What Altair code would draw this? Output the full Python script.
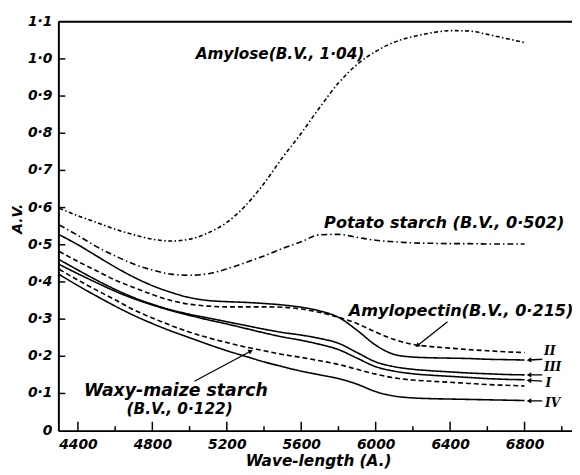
import math
import altair as alt
import pandas as pd

# ---------------- data ----------------
wavelength = [4300, 4400, 4500, 4600, 4700, 4800, 4900, 5000, 5100, 5200, 5300, 5400, 5500,
              5600, 5700, 5800, 5900, 6000, 6100, 6200, 6300, 6400, 6500, 6600, 6700, 6800]

amylose = [0.598, 0.578, 0.56, 0.542, 0.527, 0.515, 0.51, 0.515, 0.532, 0.56, 0.605, 0.665, 0.735,
           0.80, 0.87, 0.935, 0.985, 1.02, 1.045, 1.06, 1.07, 1.076, 1.075, 1.066, 1.055, 1.044]
potato = [0.553, 0.525, 0.495, 0.47, 0.448, 0.432, 0.421, 0.418, 0.422, 0.435, 0.452, 0.47, 0.49,
          0.508, 0.527, 0.528, 0.52, 0.512, 0.508, 0.505, 0.504, 0.503, 0.503, 0.502, 0.502, 0.502]
amylopectin = [0.482, 0.455, 0.43, 0.405, 0.385, 0.366, 0.35, 0.34, 0.335, 0.333, 0.333, 0.333, 0.332,
               0.327, 0.318, 0.305, 0.288, 0.265, 0.245, 0.232, 0.226, 0.222, 0.218, 0.215, 0.212, 0.21]
curve_II = [0.527, 0.50, 0.47, 0.44, 0.413, 0.39, 0.372, 0.358, 0.35, 0.347, 0.345, 0.342, 0.338,
            0.332, 0.322, 0.305, 0.27, 0.23, 0.205, 0.198, 0.196, 0.195, 0.194, 0.192, 0.191, 0.19]
curve_III = [0.46, 0.432, 0.405, 0.38, 0.358, 0.34, 0.325, 0.313, 0.303, 0.293, 0.283, 0.273, 0.264,
             0.257, 0.248, 0.235, 0.21, 0.185, 0.172, 0.165, 0.161, 0.158, 0.155, 0.153, 0.151, 0.15]
curve_I = [0.447, 0.422, 0.398, 0.375, 0.355, 0.338, 0.323, 0.31, 0.298, 0.287, 0.275, 0.263, 0.252,
           0.243, 0.232, 0.218, 0.195, 0.172, 0.16, 0.153, 0.149, 0.146, 0.143, 0.14, 0.138, 0.137]
waxy = [0.434, 0.405, 0.378, 0.352, 0.325, 0.303, 0.283, 0.265, 0.25, 0.237, 0.225, 0.215, 0.205,
        0.197, 0.188, 0.178, 0.165, 0.152, 0.142, 0.136, 0.133, 0.13, 0.127, 0.124, 0.122, 0.12]
curve_IV = [0.42, 0.39, 0.362, 0.335, 0.31, 0.288, 0.268, 0.25, 0.232, 0.215, 0.2, 0.185, 0.172,
            0.16, 0.15, 0.14, 0.125, 0.105, 0.093, 0.088, 0.086, 0.085, 0.084, 0.083, 0.082, 0.081]

series_names = ["Amylose", "Potato starch", "Amylopectin", "II", "III", "I", "Waxy-maize starch", "IV"]
series_values = [amylose, potato, amylopectin, curve_II, curve_III, curve_I, waxy, curve_IV]

x_label_values = [4400, 4800, 5200, 5600, 6000, 6400, 6800]
x_minor_ticks = [4600, 5000, 5400, 5800, 6200, 6600, 7000]
y_label_values = [0.0, 0.1, 0.2, 0.3, 0.4, 0.5, 0.6, 0.7, 0.8, 0.9, 1.0, 1.1]
y_label_texts = ["0", "0·1", "0·2", "0·3", "0·4", "0·5", "0·6", "0·7", "0·8", "0·9", "1·0", "1·1"]
y_tick_values = [0.1, 0.2, 0.3, 0.4, 0.5, 0.6, 0.7, 0.8, 0.9, 1.0]

label_small_texts = ["Amylose(B.V., 1·04)", "(B.V., 0·122)"]
label_small_x = [5033, 4661]
label_small_y = [1.014, 0.0585]
label_mid_texts = ["Potato starch (B.V., 0·502)", "Amylopectin(B.V., 0·215)"]
label_mid_x = [5723, 5855]
label_mid_y = [0.559, 0.322]
label_big_texts = ["Waxy-maize starch"]
label_big_x = [4433]
label_big_y = [0.107]

numeral_texts = ["II", "III", "I", "IV"]
numeral_x = [6905, 6905, 6912, 6910]
numeral_y = [0.213, 0.170, 0.127, 0.074]

arrow_x_tail = [5026, 6386, 6895, 6895, 6895, 6895]
arrow_y_tail = [0.133, 0.293, 0.192, 0.150, 0.133, 0.080]
arrow_x_head = [5325, 6227, 6828, 6828, 6828, 6828]
arrow_y_head = [0.213, 0.230, 0.190, 0.150, 0.135, 0.080]

# ---------------- geometry ----------------
X_MIN, X_MAX = 4295, 7055
Y_MIN, Y_MAX = 0.0, 1.1
W, H = 520, 414
KX = W / (X_MAX - X_MIN)   # px per Angstrom
KY = H / (Y_MAX - Y_MIN)   # px per A.V. unit

rows = []
for name, vals in zip(series_names, series_values):
    for w, v in zip(wavelength, vals):
        rows.append({"series": name, "wl": w, "av": v})
df = pd.DataFrame(rows)

dash_map = {
    "Amylose": [4, 2.5, 1.5, 2.5],
    "Potato starch": [6, 3, 1.5, 3],
    "Amylopectin": [5, 3],
    "II": [1, 0],
    "III": [1, 0],
    "I": [1, 0],
    "Waxy-maize starch": [5, 3],
    "IV": [1, 0],
}

FONT = "DejaVu Sans"

xscale = alt.Scale(domain=[X_MIN, X_MAX], nice=False, zero=False)
yscale = alt.Scale(domain=[Y_MIN, Y_MAX], nice=False, zero=False)

x_axis = alt.Axis(
    values=x_label_values, labelExpr="format(datum.value, 'd')",
    title="Wave-length (A.)", titleFontSize=15.5, titleFontWeight="bold",
    titleY=38, titleBaseline="bottom", titleX=W / 2 + 3,
    labelPadding=7, labelOverlap=False, labelFontSize=14,
)
y_axis = alt.Axis(
    values=y_label_values, labels=False,
    title="A.V.", titleFontSize=14, titleFontWeight="bold", titleAngle=270,
    titleX=-41, titleY=199, titleAlign="center", titleBaseline="middle",
)

lines = alt.Chart(df).mark_line(color="black", strokeWidth=1.6, interpolate="monotone").encode(
    x=alt.X("wl:Q", scale=xscale, axis=x_axis),
    y=alt.Y("av:Q", scale=yscale, axis=y_axis),
    detail="series:N",
    strokeDash=alt.StrokeDash("series:N", scale=alt.Scale(domain=list(dash_map.keys()),
                                                         range=list(dash_map.values())), legend=None),
)

frame_top = alt.Chart(pd.DataFrame({"v": [Y_MAX]})).mark_rule(color="black", strokeWidth=2).encode(
    y=alt.Y("v:Q", scale=yscale),
    x=alt.datum(X_MIN), x2=alt.datum(X_MAX),
)

major = alt.Chart(pd.DataFrame({"v": x_label_values})).mark_rule(color="black", strokeWidth=1.5).encode(
    x=alt.X("v:Q", scale=xscale), y=alt.datum(0.0), y2=alt.datum(9 / KY)
)
minor = alt.Chart(pd.DataFrame({"v": x_minor_ticks})).mark_rule(color="black", strokeWidth=1.5).encode(
    x=alt.X("v:Q", scale=xscale), y=alt.datum(0.0), y2=alt.datum(4.5 / KY)
)
yticks = alt.Chart(pd.DataFrame({"v": y_tick_values})).mark_rule(color="black", strokeWidth=1.5).encode(
    y=alt.Y("v:Q", scale=yscale), x=alt.datum(X_MIN), x2=alt.datum(X_MIN + 7 / KX)
)

ylabels = alt.Chart(pd.DataFrame({"v": y_label_values, "t": y_label_texts})).mark_text(
    align="right", baseline="middle", dx=-6, font=FONT, fontSize=14, fontStyle="italic",
    fontWeight="bold", color="black"
).encode(y=alt.Y("v:Q", scale=yscale), x=alt.datum(X_MIN), text="t:N")


def text_layer(texts, xs, ys, size):
    return alt.Chart(pd.DataFrame({"t": texts, "x": xs, "y": ys})).mark_text(
        align="left", baseline="middle", font=FONT, fontSize=size, fontStyle="italic",
        fontWeight="bold", color="black"
    ).encode(x=alt.X("x:Q", scale=xscale), y=alt.Y("y:Q", scale=yscale), text="t:N")


labels_small = text_layer(label_small_texts, label_small_x, label_small_y, 15.5)
labels_mid = text_layer(label_mid_texts, label_mid_x, label_mid_y, 16.3)
labels_big = text_layer(label_big_texts, label_big_x, label_big_y, 17.5)

numerals = alt.Chart(pd.DataFrame({"t": numeral_texts, "x": numeral_x, "y": numeral_y})).mark_text(
    align="left", baseline="middle", font="DejaVu Serif", fontSize=12.5, fontStyle="italic",
    fontWeight="bold", color="black"
).encode(x=alt.X("x:Q", scale=xscale), y=alt.Y("y:Q", scale=yscale), text="t:N")

angles = [math.degrees(math.atan2((xh - xt) * KX, (yh - yt) * KY))
          for xt, yt, xh, yh in zip(arrow_x_tail, arrow_y_tail, arrow_x_head, arrow_y_head)]
arr_df = pd.DataFrame({"xt": arrow_x_tail, "yt": arrow_y_tail, "xh": arrow_x_head,
                       "yh": arrow_y_head, "ang": angles})
shafts = alt.Chart(arr_df).mark_rule(color="black", strokeWidth=1.3).encode(
    x=alt.X("xt:Q", scale=xscale), y=alt.Y("yt:Q", scale=yscale),
    x2="xh:Q", y2="yh:Q"
)
heads = alt.Chart(arr_df).mark_point(shape="triangle", filled=True, color="black", size=28, opacity=1).encode(
    x=alt.X("xh:Q", scale=xscale), y=alt.Y("yh:Q", scale=yscale),
    angle=alt.Angle("ang:Q", scale=None)
)

chart = alt.layer(lines, frame_top, major, minor, yticks, ylabels, labels_small, labels_mid,
                  labels_big, numerals, shafts, heads).properties(
    width=W, height=H,
    autosize=alt.AutoSizeParams(type="none"),
    padding={"left": 51, "top": 11, "right": 0, "bottom": 40},
).configure_view(stroke=None).configure(background="white").configure_axis(
    ticks=False, tickSize=0, grid=False, domainColor="black", domainWidth=2,
    labelFont=FONT, labelFontSize=14, labelFontStyle="italic", labelFontWeight="bold",
    labelColor="black", labelFlush=False, labelOverlap=False, labelBound=False,
    titleFont=FONT, titleFontStyle="italic", titleColor="black",
)

chart.save("out.html", embed_options={"renderer": "svg", "actions": False})
